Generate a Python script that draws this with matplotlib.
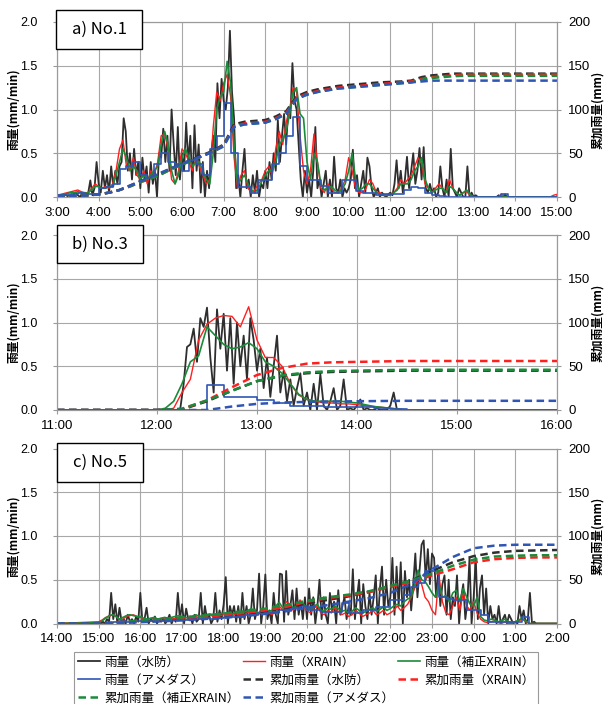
import numpy as np
import matplotlib
matplotlib.use("Agg")
import matplotlib.pyplot as plt
from matplotlib.patches import Rectangle
from matplotlib.lines import Line2D
from matplotlib.ticker import FormatStrFormatter

plt.rcParams['font.family'] = ['Liberation Sans', 'Noto Sans CJK JP', 'DejaVu Sans']
CJK = ['Noto Sans CJK JP', 'DejaVu Sans']

# ====================== DATA ======================
# ---- panel a) No.1 : 3:00 - 15:00 ----
A_TITLE = "a) No.1"
A_XTICKS = [3, 4, 5, 6, 7, 8, 9, 10, 11, 12, 13, 14, 15]
A_XTICKLABELS = ["3:00", "4:00", "5:00", "6:00", "7:00", "8:00", "9:00", "10:00",
                 "11:00", "12:00", "13:00", "14:00", "15:00"]
A_BLACK_START, A_BLACK_STEP = 3.0, 3      # 3-min
A_BLACK = [
    0.0, 0.01, 0.02, 0.0, 0.03, 0.01, 0.02, 0.0, 0.03, 0.05, 0.02, 0.0, 0.04, 0.03, 0.01, 0.05, 0.19, 0.02, 0.1, 0.4,
    0.15, 0.05, 0.3, 0.1, 0.25, 0.05, 0.35, 0.12, 0.3, 0.15, 0.35, 0.4, 0.9, 0.75, 0.3, 0.5, 0.2, 0.55, 0.25, 0.4,
    0.1, 0.45, 0.2, 0.35, 0.05, 0.4, 0.15, 0.3, 0.0, 0.5, 0.45, 0.78, 0.4, 0.7, 0.3, 1.0, 0.6, 0.25, 0.8, 0.2,
    0.5, 0.3, 0.85, 0.4, 0.7, 0.1, 0.82, 0.3, 0.6, 0.05, 0.4, 0.0, 0.3, 0.1, 0.5, 0.7, 0.4, 1.3, 0.9, 1.35,
    1.1, 1.0, 1.25, 1.9, 1.2, 0.9, 0.1, 0.25, 0.0, 0.3, 0.55, 0.1, 0.2, 0.0, 0.25, 0.05, 0.3, 0.0, 0.15, 0.1,
    0.3, 0.1, 0.4, 0.2, 0.5, 0.3, 0.88, 0.4, 0.7, 0.95, 0.6, 1.0, 0.9, 1.53, 1.1, 1.0, 0.6, 0.2, 0.0, 0.3,
    0.05, 0.2, 0.0, 0.3, 0.8, 0.1, 0.2, 0.0, 0.15, 0.3, 0.0, 0.2, 0.0, 0.46, 0.1, 0.05, 0.2, 0.0, 0.1, 0.05,
    0.1, 0.2, 0.54, 0.1, 0.25, 0.0, 0.15, 0.3, 0.05, 0.45, 0.35, 0.1, 0.0, 0.05, 0.1, 0.0, 0.05, 0.02, 0.0, 0.03,
    0.05, 0.02, 0.15, 0.42, 0.1, 0.3, 0.05, 0.2, 0.46, 0.1, 0.3, 0.5, 0.15, 0.3, 0.56, 0.2, 0.57, 0.1, 0.05, 0.15,
    0.05, 0.1, 0.0, 0.05, 0.35, 0.1, 0.0, 0.2, 0.0, 0.55, 0.1, 0.05, 0.0, 0.1, 0.05, 0.0, 0.0, 0.35, 0.0, 0.05,
    0.0, 0.02, 0.0, 0.0, 0.0, 0.0, 0.0, 0.0, 0.0, 0.0, 0.0, 0.0, 0.02, 0.0, 0.0, 0.03, 0.0, 0.0, 0.0, 0.0,
    0.0, 0.0, 0.0, 0.0, 0.0, 0.0, 0.0, 0.0, 0.0, 0.0, 0.0, 0.0, 0.0, 0.0, 0.0, 0.0, 0.0, 0.0, 0.0, 0.0,
    0.0]
A_RG_START, A_RG_STEP = 3.0, 5            # 5-min
A_RED = [
    0.02, 0.03, 0.04, 0.05, 0.06, 0.07, 0.08, 0.06, 0.05, 0.05, 0.1, 0.15,
    0.12, 0.1, 0.12, 0.1, 0.15, 0.3, 0.55, 0.65, 0.35, 0.3, 0.45, 0.25,
    0.2, 0.3, 0.15, 0.3, 0.25, 0.4, 0.7, 0.72, 0.55, 0.2, 0.15, 0.3,
    0.55, 0.5, 0.4, 0.3, 0.45, 0.35, 0.25, 0.15, 0.2, 0.8, 1.2, 1.1,
    1.3, 1.4, 1.15, 0.45, 0.1, 0.25, 0.3, 0.1, 0.05, 0.08, 0.15, 0.2,
    0.3, 0.35, 0.25, 0.55, 0.75, 0.6, 0.85, 1.0, 1.25, 1.2, 0.7, 0.3,
    0.15, 0.3, 0.72, 0.4, 0.1, 0.05, 0.15, 0.1, 0.05, 0.05, 0.1, 0.2,
    0.45, 0.3, 0.1, 0.05, 0.05, 0.1, 0.2, 0.15, 0.05, 0.05, 0.02, 0.02,
    0.03, 0.05, 0.1, 0.2, 0.15, 0.2, 0.25, 0.35, 0.45, 0.38, 0.15, 0.1,
    0.05, 0.1, 0.15, 0.1, 0.05, 0.2, 0.1, 0.05, 0.02, 0.05, 0.06, 0.02,
    0.0, 0.0, 0.0, 0.0, 0.0, 0.0, 0.0, 0.0, 0.03, 0.0, 0.0, 0.0,
    0.0, 0.0, 0.0, 0.0, 0.0, 0.0, 0.0, 0.0, 0.0, 0.0, 0.0, 0.02,
    0.03]
A_GREEN = [
    0.01, 0.02, 0.03, 0.04, 0.05, 0.05, 0.06, 0.05, 0.04, 0.05, 0.08, 0.12,
    0.12, 0.1, 0.1, 0.12, 0.12, 0.25, 0.4, 0.55, 0.45, 0.3, 0.35, 0.3,
    0.2, 0.25, 0.2, 0.25, 0.3, 0.35, 0.6, 0.75, 0.6, 0.3, 0.15, 0.25,
    0.45, 0.55, 0.45, 0.35, 0.4, 0.4, 0.3, 0.2, 0.15, 0.5, 1.0, 1.15,
    1.2, 1.55, 1.3, 0.6, 0.15, 0.2, 0.25, 0.15, 0.08, 0.05, 0.1, 0.18,
    0.25, 0.3, 0.3, 0.4, 0.6, 0.65, 0.75, 0.95, 1.2, 1.25, 0.95, 0.9,
    0.4, 0.2, 0.5, 0.4, 0.15, 0.08, 0.1, 0.12, 0.08, 0.05, 0.08, 0.15,
    0.3, 0.5, 0.2, 0.08, 0.1, 0.15, 0.15, 0.1, 0.05, 0.03, 0.02, 0.02,
    0.02, 0.05, 0.08, 0.15, 0.15, 0.15, 0.2, 0.3, 0.35, 0.45, 0.2, 0.1,
    0.05, 0.08, 0.1, 0.1, 0.05, 0.12, 0.1, 0.05, 0.02, 0.05, 0.08, 0.03,
    0.0, 0.0, 0.0, 0.0, 0.0, 0.0, 0.0, 0.0, 0.0, 0.0, 0.0, 0.0,
    0.0, 0.0, 0.0, 0.0, 0.0, 0.0, 0.0, 0.0, 0.0, 0.0, 0.0, 0.0,
    0.0]
A_BLUE_START, A_BLUE_STEP = 3.0, 10       # 10-min steps
A_BLUE = [
    0.02, 0.02, 0.03, 0.05, 0.03, 0.03,
    0.1, 0.12, 0.15, 0.32, 0.35, 0.4,
    0.25, 0.22, 0.38, 0.5, 0.4, 0.38,
    0.3, 0.42, 0.38, 0.25, 0.55, 0.7,
    1.08, 0.5, 0.12, 0.12, 0.05, 0.2,
    0.2, 0.38, 0.5, 0.7, 0.92, 0.35,
    0.19, 0.19, 0.13, 0.05, 0.05, 0.19,
    0.19, 0.07, 0.05, 0.05, 0.02, 0.03,
    0.03, 0.03, 0.08, 0.12, 0.1, 0.05,
    0.02, 0.01, 0.0, 0.0, 0.0, 0.0,
    0.0, 0.0, 0.0, 0.0, 0.03, 0.0,
    0.0, 0.0, 0.0, 0.0, 0.0, 0.0,
    0.0]
A_CUM_START, A_CUM_STEP = 3.0, 15         # cumulative, 15-min
A_CUM_BLACK = [0, 0.5, 1, 2, 3, 5, 8, 13, 18, 22, 27, 33, 38, 43, 48, 53,
               60, 83, 86, 87, 88, 92, 98, 115, 120, 123, 125, 127, 128, 129, 130, 131,
               131.5, 132, 133, 137, 139, 140, 141, 141, 141, 141, 141, 141, 141, 141, 141, 141, 141]
A_CUM_RED = [0, 0.5, 1, 2, 3, 5, 8, 12, 17, 21, 26, 32, 37, 42, 47, 52,
             59, 81, 84, 85, 86, 90, 96, 113, 118, 121, 123, 125, 126, 127, 128, 129,
             130, 131, 132, 135, 137, 138, 139, 140, 140, 140, 140, 140, 140, 140, 140, 140, 140]
A_CUM_GREEN = [0, 0.5, 1, 2, 3, 5, 8, 12, 17, 21, 26, 32, 37, 42, 47, 52,
               58, 80, 83, 84, 85, 89, 95, 112, 117, 120, 122, 124, 125, 126, 127, 128,
               129, 130, 131, 134, 136, 137, 138, 138.5, 138.5, 138.5, 138.5, 138.5, 138.5, 138.5, 138.5, 138.5, 138.5]
A_CUM_BLUE = [0, 0.5, 1, 2, 3, 5, 8, 13, 18, 23, 28, 33, 38, 43, 47, 52,
              58, 80, 83, 84, 85, 89, 95, 112, 117, 120, 122, 124, 125, 126, 127, 128,
              129, 130, 131, 132, 133, 133, 133, 133, 133, 133, 133, 133, 133, 133, 133, 133, 133]

# ---- panel b) No.3 : 11:00 - 16:00 ----
B_TITLE = "b) No.3"
B_XTICKS = [11, 12, 13, 14, 15, 16]
B_XTICKLABELS = ["11:00", "12:00", "13:00", "14:00", "15:00", "16:00"]
B_BLACK_START, B_BLACK_STEP = 12 + 10 / 60, 2   # 2-min from 12:10
B_BLACK = [0.0, 0.0, 0.02, 0.3, 0.72, 0.75, 0.93, 0.55, 1.05, 0.95,
           1.17, 0.6, 0.2, 1.15, 0.7, 1.1, 0.45, 1.05, 0.3, 1.0,
           0.5, 0.85, 0.35, 1.05, 0.8, 0.45, 0.7, 0.25, 0.6, 0.15,
           0.5, 0.85, 0.2, 0.45, 0.1, 0.35, 0.05, 0.25, 0.42, 0.05,
           0.2, 0.0, 0.3, 0.0, 0.41, 0.05, 0.0, 0.1, 0.25, 0.0,
           0.05, 0.35, 0.0, 0.02, 0.0, 0.05, 0.12, 0.0, 0.02, 0.0,
           0.0, 0.02, 0.0, 0.0, 0.0, 0.05, 0.2, 0.0, 0.0, 0.0, 0.0]
B_RG_START, B_RG_STEP = 12.0, 5
B_RED = [0.0, 0.0, 0.02, 0.2, 0.35, 0.8, 0.98, 1.05, 1.08, 1.07, 0.95, 1.18,
         0.8, 0.6, 0.6, 0.5, 0.3, 0.17, 0.12, 0.1, 0.08, 0.08, 0.07, 0.07,
         0.06, 0.05, 0.04, 0.03, 0.02, 0.01, 0.0]
B_GREEN = [0.0, 0.02, 0.1, 0.3, 0.55, 0.62, 0.95, 0.85, 0.75, 0.7, 0.72, 0.77,
           0.7, 0.55, 0.5, 0.42, 0.3, 0.18, 0.12, 0.1, 0.1, 0.1, 0.1, 0.09,
           0.08, 0.06, 0.04, 0.03, 0.02, 0.01, 0.0]
B_BLUE_START, B_BLUE_STEP = 11.0, 10
B_BLUE = [0, 0, 0, 0, 0, 0,
          0, 0, 0, 0.29, 0.15, 0.15,
          0.11, 0.08, 0.05, 0.05, 0.04, 0.03,
          0.03, 0.02, 0.01, 0.0, 0.0, 0.0,
          0, 0, 0, 0, 0, 0, 0]
B_CUM_START, B_CUM_STEP = 11.0, 15
B_CUM_BLACK = [0, 0, 0, 0, 0, 0.5, 10, 22, 33, 39, 42, 43.5, 44, 44.5, 45, 45, 45, 45, 45, 45, 45]
B_CUM_RED = [0, 0, 0, 0, 0, 1, 11, 26, 40, 48, 53, 54.5, 55, 55.5, 56, 56, 56, 56, 56, 56, 56]
B_CUM_GREEN = [0, 0, 0, 0, 0, 1.5, 11, 22, 33, 39.5, 43, 44.5, 45, 45.5, 46, 46, 46, 46, 46, 46, 46]
B_CUM_BLUE = [0, 0, 0, 0, 0, 0, 0, 4, 7, 8.5, 9.3, 9.7, 10, 10.3, 10.5, 10.5, 10.5, 10.5, 10.5, 10.5, 10.5]

# ---- panel c) No.5 : 14:00 - 2:00 (next day) ----
C_TITLE = "c) No.5"
C_XTICKS = [14, 15, 16, 17, 18, 19, 20, 21, 22, 23, 24, 25, 26]
C_XTICKLABELS = ["14:00", "15:00", "16:00", "17:00", "18:00", "19:00", "20:00",
                 "21:00", "22:00", "23:00", "0:00", "1:00", "2:00"]
C_BLACK_START, C_BLACK_STEP = 15.0, 3
C_BLACK = [
    0.0, 0.0, 0.02, 0.0, 0.05, 0.02, 0.35, 0.05, 0.22, 0.0, 0.18, 0.02, 0.05, 0.0, 0.1, 0.02, 0.05, 0.0, 0.08, 0.02,
    0.35, 0.02, 0.05, 0.18, 0.0, 0.05, 0.02, 0.08, 0.0, 0.05, 0.02, 0.06, 0.0, 0.04, 0.1, 0.0, 0.05, 0.02, 0.35, 0.05,
    0.22, 0.0, 0.17, 0.05, 0.08, 0.0, 0.1, 0.02, 0.05, 0.35, 0.0, 0.2, 0.05, 0.1, 0.0, 0.05, 0.35, 0.02, 0.15, 0.05,
    0.22, 0.53, 0.0, 0.2, 0.1, 0.2, 0.02, 0.2, 0.0, 0.35, 0.05, 0.2, 0.0, 0.1, 0.4, 0.05, 0.15, 0.57, 0.0, 0.2,
    0.56, 0.05, 0.15, 0.0, 0.35, 0.1, 0.0, 0.57, 0.56, 0.02, 0.6, 0.1, 0.2, 0.38, 0.05, 0.4, 0.1, 0.25, 0.05, 0.3,
    0.05, 0.4, 0.1, 0.3, 0.0, 0.2, 0.5, 0.05, 0.3, 0.1, 0.0, 0.35, 0.15, 0.25, 0.0, 0.38, 0.1, 0.2, 0.3, 0.05,
    0.2, 0.1, 0.62, 0.05, 0.3, 0.5, 0.0, 0.45, 0.2, 0.05, 0.35, 0.1, 0.3, 0.55, 0.0, 0.4, 0.65, 0.1, 0.5, 0.2,
    0.3, 0.75, 0.1, 0.65, 0.2, 0.7, 0.0, 0.6, 0.3, 0.5, 0.15, 0.45, 0.8, 0.3, 0.6, 0.9, 0.95, 0.5, 0.85, 0.45,
    0.8, 0.75, 0.3, 0.6, 0.2, 0.45, 0.55, 0.1, 0.5, 0.05, 0.3, 0.2, 0.55, 0.0, 0.3, 0.45, 0.05, 0.25, 0.75, 0.0,
    0.3, 0.75, 0.05, 0.4, 0.55, 0.1, 0.4, 0.0, 0.2, 0.05, 0.1, 0.0, 0.2, 0.0, 0.05, 0.1, 0.0, 0.1, 0.05, 0.0,
    0.02, 0.0, 0.2, 0.05, 0.15, 0.0, 0.05, 0.35, 0.0, 0.02, 0.0, 0.0, 0.0, 0.0, 0.0, 0.0, 0.0, 0.0, 0.0, 0.0,
    0.0]
C_RG_START, C_RG_STEP = 15.0, 5
C_RED = [
    0.02, 0.04, 0.07, 0.08, 0.1, 0.08, 0.04, 0.05, 0.08, 0.09, 0.1, 0.08,
    0.07, 0.05, 0.04, 0.06, 0.05, 0.04, 0.06, 0.05, 0.04, 0.05, 0.06, 0.07,
    0.06, 0.05, 0.04, 0.07, 0.08, 0.06, 0.07, 0.09, 0.1, 0.08, 0.07, 0.09,
    0.1, 0.08, 0.07, 0.1, 0.12, 0.09, 0.1, 0.13, 0.15, 0.12, 0.1, 0.14,
    0.15, 0.12, 0.1, 0.16, 0.2, 0.15, 0.25, 0.22, 0.15, 0.18, 0.27, 0.2,
    0.15, 0.12, 0.18, 0.2, 0.12, 0.1, 0.15, 0.12, 0.18, 0.14, 0.1, 0.12,
    0.08, 0.1, 0.15, 0.12, 0.08, 0.1, 0.12, 0.15, 0.1, 0.12, 0.15, 0.1,
    0.12, 0.15, 0.2, 0.15, 0.18, 0.22, 0.3, 0.4, 0.55, 0.45, 0.3, 0.25,
    0.15, 0.1, 0.55, 0.25, 0.12, 0.1, 0.2, 0.3, 0.15, 0.35, 0.2, 0.15,
    0.25, 0.12, 0.05, 0.02, 0.01, 0.02, 0.03, 0.01, 0.0, 0.02, 0.0, 0.0,
    0.02, 0.03, 0.05, 0.02, 0.0, 0.0, 0.0, 0.0, 0.0, 0.0, 0.0, 0.0,
    0.0]
C_GREEN = [
    0.01, 0.03, 0.06, 0.09, 0.1, 0.08, 0.05, 0.07, 0.09, 0.1, 0.09, 0.08,
    0.08, 0.06, 0.05, 0.06, 0.07, 0.05, 0.06, 0.07, 0.06, 0.07, 0.08, 0.09,
    0.08, 0.07, 0.06, 0.08, 0.1, 0.08, 0.09, 0.1, 0.11, 0.1, 0.09, 0.11,
    0.12, 0.1, 0.09, 0.12, 0.14, 0.11, 0.13, 0.15, 0.17, 0.14, 0.12, 0.16,
    0.17, 0.14, 0.15, 0.2, 0.24, 0.18, 0.2, 0.22, 0.18, 0.2, 0.25, 0.22,
    0.18, 0.16, 0.2, 0.22, 0.15, 0.14, 0.18, 0.16, 0.2, 0.17, 0.14, 0.15,
    0.12, 0.14, 0.18, 0.15, 0.12, 0.14, 0.16, 0.18, 0.14, 0.16, 0.19, 0.15,
    0.17, 0.2, 0.22, 0.2, 0.25, 0.28, 0.3, 0.45, 0.61, 0.5, 0.48, 0.42,
    0.35, 0.3, 0.45, 0.3, 0.32, 0.25, 0.35, 0.38, 0.25, 0.4, 0.3, 0.22,
    0.2, 0.3, 0.08, 0.04, 0.03, 0.05, 0.04, 0.02, 0.03, 0.05, 0.02, 0.01,
    0.02, 0.04, 0.06, 0.03, 0.0, 0.0, 0.0, 0.0, 0.0, 0.0, 0.0, 0.0,
    0.0]
C_BLUE_START, C_BLUE_STEP = 14.0, 10
C_BLUE = [
    0, 0, 0, 0, 0, 0,
    0.0, 0.01, 0.02, 0.03, 0.02, 0.03,
    0.03, 0.03, 0.04, 0.03, 0.04, 0.04,
    0.04, 0.05, 0.05, 0.06, 0.05, 0.06,
    0.07, 0.08, 0.08, 0.1, 0.1, 0.12,
    0.12, 0.13, 0.15, 0.17, 0.18, 0.2,
    0.15, 0.15, 0.13, 0.13, 0.13, 0.23,
    0.12, 0.12, 0.15, 0.15, 0.19, 0.19,
    0.27, 0.27, 0.33, 0.42, 0.46, 0.6,
    0.6, 0.3, 0.28, 0.27, 0.27, 0.15,
    0.15, 0.1, 0.02, 0.02, 0.02, 0.02,
    0.02, 0.07, 0.0, 0.0, 0.0, 0.0,
    0.0]
C_CUM_START, C_CUM_STEP = 14.0, 30
C_CUM_BLACK = [0, 0, 0, 1, 2, 3.5, 5, 6.5, 8.5, 11, 14, 18, 23, 27, 31, 36, 42, 49, 60, 70, 77, 81, 83, 83.5, 84]
C_CUM_RED = [0, 0, 0, 1.5, 3, 4.5, 6, 7.5, 9.5, 12, 15, 19, 25, 29, 32, 36, 42, 47, 55, 62, 70, 73.5, 75, 75.5, 75.5]
C_CUM_GREEN = [0, 0, 0, 1.5, 3.5, 5, 7, 9, 11.5, 14, 17, 21, 26, 30, 33, 37, 43, 49, 57, 66, 73, 76.5, 77.5, 78, 78]
C_CUM_BLUE = [0, 0, 0, 0.5, 1.5, 2.5, 3.5, 5, 6.5, 8.5, 11, 14, 18, 21, 25, 29, 35, 45, 62, 76, 86, 89, 90, 90, 90]

LABELS = ["雨量（水防）", "雨量（XRAIN）", "雨量（補正XRAIN）", "雨量（アメダス）",
          "累加雨量（水防）", "累加雨量（XRAIN）", "累加雨量（補正XRAIN）", "累加雨量（アメダス）"]
LEFT_LABEL = "雨量(mm/min)"
RIGHT_LABEL = "累加雨量(mm)"
LEFT_TICKS = [0.0, 0.5, 1.0, 1.5, 2.0]
RIGHT_TICKS = [0, 50, 100, 150, 200]

# ====================== STYLE ======================
COL_BLK, COL_RED, COL_GRN, COL_BLU = '#2e2e2e', '#ff1f1f', '#1b8a3a', '#2f55b5'
GRID = '#a8a8a8'
SPINE = '#9a9a9a'
DASH = (3.0, 1.8)
W, H = 605, 704


def hours(start, step_min, n):
    return start + np.arange(n) * step_min / 60.0


def padded(xmin, xmax, x, v):
    return (np.concatenate([[xmin], x, [xmax]]),
            np.concatenate([[0.0], np.asarray(v, dtype=float), [0.0]]))


def frac(x0, y0, x1, y1):
    return [x0 / W, 1 - y1 / H, (x1 - x0) / W, (y1 - y0) / H]


fig = plt.figure(figsize=(W / 100, H / 100), dpi=100)
fig.patch.set_facecolor('white')

panels = [
    dict(rect=(57, 22, 557, 197), box=(56, 10, 142, 49), title=A_TITLE,
         xlim=(3, 15), xt=A_XTICKS, xtl=A_XTICKLABELS,
         black=(A_BLACK_START, A_BLACK_STEP, A_BLACK),
         red=(A_RG_START, A_RG_STEP, A_RED), green=(A_RG_START, A_RG_STEP, A_GREEN),
         blue=(A_BLUE_START, A_BLUE_STEP, A_BLUE),
         cum=(A_CUM_START, A_CUM_STEP, A_CUM_BLACK, A_CUM_RED, A_CUM_GREEN, A_CUM_BLUE)),
    dict(rect=(57, 235, 557, 410), box=(57, 225, 143, 263), title=B_TITLE,
         xlim=(11, 16), xt=B_XTICKS, xtl=B_XTICKLABELS,
         black=(B_BLACK_START, B_BLACK_STEP, B_BLACK),
         red=(B_RG_START, B_RG_STEP, B_RED), green=(B_RG_START, B_RG_STEP, B_GREEN),
         blue=(B_BLUE_START, B_BLUE_STEP, B_BLUE),
         cum=(B_CUM_START, B_CUM_STEP, B_CUM_BLACK, B_CUM_RED, B_CUM_GREEN, B_CUM_BLUE)),
    dict(rect=(57, 448.5, 557, 623.5), box=(57, 443, 143, 482), title=C_TITLE,
         xlim=(14, 26), xt=C_XTICKS, xtl=C_XTICKLABELS,
         black=(C_BLACK_START, C_BLACK_STEP, C_BLACK),
         red=(C_RG_START, C_RG_STEP, C_RED), green=(C_RG_START, C_RG_STEP, C_GREEN),
         blue=(C_BLUE_START, C_BLUE_STEP, C_BLUE),
         cum=(C_CUM_START, C_CUM_STEP, C_CUM_BLACK, C_CUM_RED, C_CUM_GREEN, C_CUM_BLUE)),
]

for p in panels:
    x0, y0, x1, y1 = p['rect']
    ax = fig.add_axes(frac(x0, y0, x1, y1))
    xmin, xmax = p['xlim']
    ax.set_xlim(xmin, xmax)
    ax.set_ylim(0, 2.0)
    ax.set_xticks(p['xt'])
    ax.set_xticklabels(p['xtl'])
    ax.set_yticks(LEFT_TICKS)
    ax.yaxis.set_major_formatter(FormatStrFormatter('%.1f'))
    ax.grid(True, color=GRID, lw=0.8)
    ax.set_axisbelow(True)
    for s in ax.spines.values():
        s.set_color(SPINE)
        s.set_linewidth(0.8)
    ax.tick_params(axis='both', labelsize=9.5, labelcolor='black', length=3, width=0.8, color=SPINE)
    ax.tick_params(axis='y', pad=11, labelsize=9)
    ax.tick_params(axis='x', pad=4)

    # rain series
    s, st, v = p['black']
    xx, yy = padded(xmin, xmax, hours(s, st, len(v)), v)
    ax.plot(xx, yy, color=COL_BLK, lw=1.3, zorder=3)
    s, st, v = p['red']
    xx, yy = padded(xmin, xmax, hours(s, st, len(v)), v)
    ax.plot(xx, yy, color=COL_RED, lw=1.0, zorder=4)
    s, st, v = p['green']
    xx, yy = padded(xmin, xmax, hours(s, st, len(v)), v)
    ax.plot(xx, yy, color=COL_GRN, lw=1.2, zorder=5)
    s, st, v = p['blue']
    ax.step(hours(s, st, len(v)), v, where='post', color=COL_BLU, lw=1.2, zorder=6)

    # cumulative on twin axis
    ax2 = ax.twinx()
    ax2.set_ylim(0, 200)
    ax2.set_yticks(RIGHT_TICKS)
    for sp in ax2.spines.values():
        sp.set_color(SPINE)
        sp.set_linewidth(0.8)
    ax2.tick_params(axis='y', labelsize=9.5, length=3, width=0.8, color=SPINE, pad=5)
    cs, cst, cb, cr, cg, cu = p['cum']
    for vals, col in ((cb, COL_BLK), (cr, COL_RED), (cg, COL_GRN), (cu, COL_BLU)):
        ln, = ax2.plot(hours(cs, cst, len(vals)), vals, color=col, lw=1.8)
        ln.set_dashes(DASH)
    ax2.set_xlim(xmin, xmax)

    # axis labels
    yc = 1 - (y0 + y1) / 2 / H
    fig.text(13 / W, yc, LEFT_LABEL, rotation=90, ha='center', va='center',
             fontsize=8.5, fontweight='bold', family=CJK)
    fig.text(598 / W, yc, RIGHT_LABEL, rotation=90, ha='center', va='center',
             fontsize=8.5, fontweight='bold', family=CJK)

    # title box
    bx0, by0, bx1, by1 = p['box']
    fig.patches.append(Rectangle((bx0 / W, 1 - by1 / H), (bx1 - bx0) / W, (by1 - by0) / H,
                                 transform=fig.transFigure, facecolor='white',
                                 edgecolor='black', lw=1.0, zorder=10))
    fig.text((bx0 + bx1) / 2 / W, 1 - (by0 + by1) / 2 / H, p['title'], ha='center',
             va='center', fontsize=12, family=CJK, zorder=11)


def solid(c, lw):
    return Line2D([], [], color=c, lw=lw)


def dashed(c):
    l = Line2D([], [], color=c, lw=1.8)
    l.set_dashes(DASH)
    return l


handles = [solid(COL_BLK, 1.3), solid(COL_RED, 1.0), solid(COL_GRN, 1.2), solid(COL_BLU, 1.2),
           dashed(COL_BLK), dashed(COL_RED), dashed(COL_GRN), dashed(COL_BLU)]
order = [0, 3, 6, 1, 4, 7, 2, 5]
leg = fig.legend([handles[i] for i in order], [LABELS[i] for i in order], ncol=3,
                 loc='upper left', bbox_to_anchor=(74 / W, 1 - 652 / H, (538 - 74) / W, 0),
                 mode='expand', frameon=True, fancybox=False, edgecolor='#808080',
                 prop={'family': CJK, 'size': 9}, handlelength=1.8, handletextpad=0.3,
                 labelspacing=0.4, borderpad=0.3, borderaxespad=0, columnspacing=1.0)
leg.get_frame().set_linewidth(0.8)

fig.savefig('out.png', dpi=100, facecolor='white')
